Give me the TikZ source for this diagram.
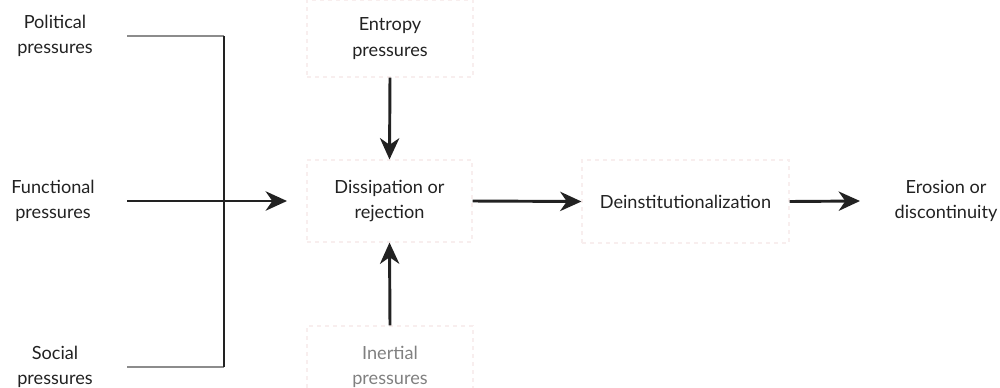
\documentclass[tikz,border=0pt]{standalone}
\usepackage{fontspec}
\setmainfont{Lato}
\usetikzlibrary{arrows.meta}
\definecolor{ink}{HTML}{222222}
\definecolor{boxline}{HTML}{F8EEEE}
\begin{document}
\begin{tikzpicture}[x=0.75pt,y=-0.75pt,
  lbl/.style={font=\fontsize{13.6pt}{19pt}\selectfont, align=center, text=ink},
  bx/.style={lbl, draw=boxline, dashed, line width=0.8pt, inner sep=0pt},
  conn/.style={draw=ink, line width=2.2pt},
  arr/.style={conn, -{Stealth[length=16pt,width=14.5pt,inset=5pt]}}]
\useasboundingbox (0,0) rectangle (1000,387);
\node[lbl] (pol) at (55,36) {Political\\pressures};
\node[lbl] (fun) at (53,201) {Functional\\pressures};
\node[lbl] (soc) at (55,367) {Social\\pressures};
\node[bx, minimum width=124.5pt, minimum height=57.75pt] (ent) at (390,38.5) {Entropy\\pressures};
\node[bx, minimum width=123.75pt, minimum height=61.5pt] (dis) at (389.5,201) {Dissipation or\\rejection};
\node[bx, minimum width=155.25pt, minimum height=62.25pt] (dei) at (685.5,201.5) {Deinstitutionalization};
\node[lbl] (ero) at (946,201) {Erosion or\\discontinuity};
\node[bx, minimum width=124.5pt, minimum height=61.5pt, text=gray] (ine) at (390,367) {Inertial\\pressures};
\coordinate (jtop) at (224,36);
\coordinate (jbot) at (224,367);
\coordinate (pe) at (127,36);
\coordinate (fe) at (127,201);
\coordinate (se) at (127,367);
\draw[conn, draw=gray!90] (pe) -- (jtop);
\draw[conn, draw=gray!90] (se) -- (jbot);
\draw[conn] (jtop) -- (jbot);
\draw[arr] (fe) -- (287,201);
\draw[arr] (ent.south) -- (dis.north);
\draw[arr] (ine.north) -- (dis.south);
\draw[arr] (dis.east) -- (dei.west);
\draw[arr] (dei.east) -- (860,201);
\end{tikzpicture}
\end{document}
